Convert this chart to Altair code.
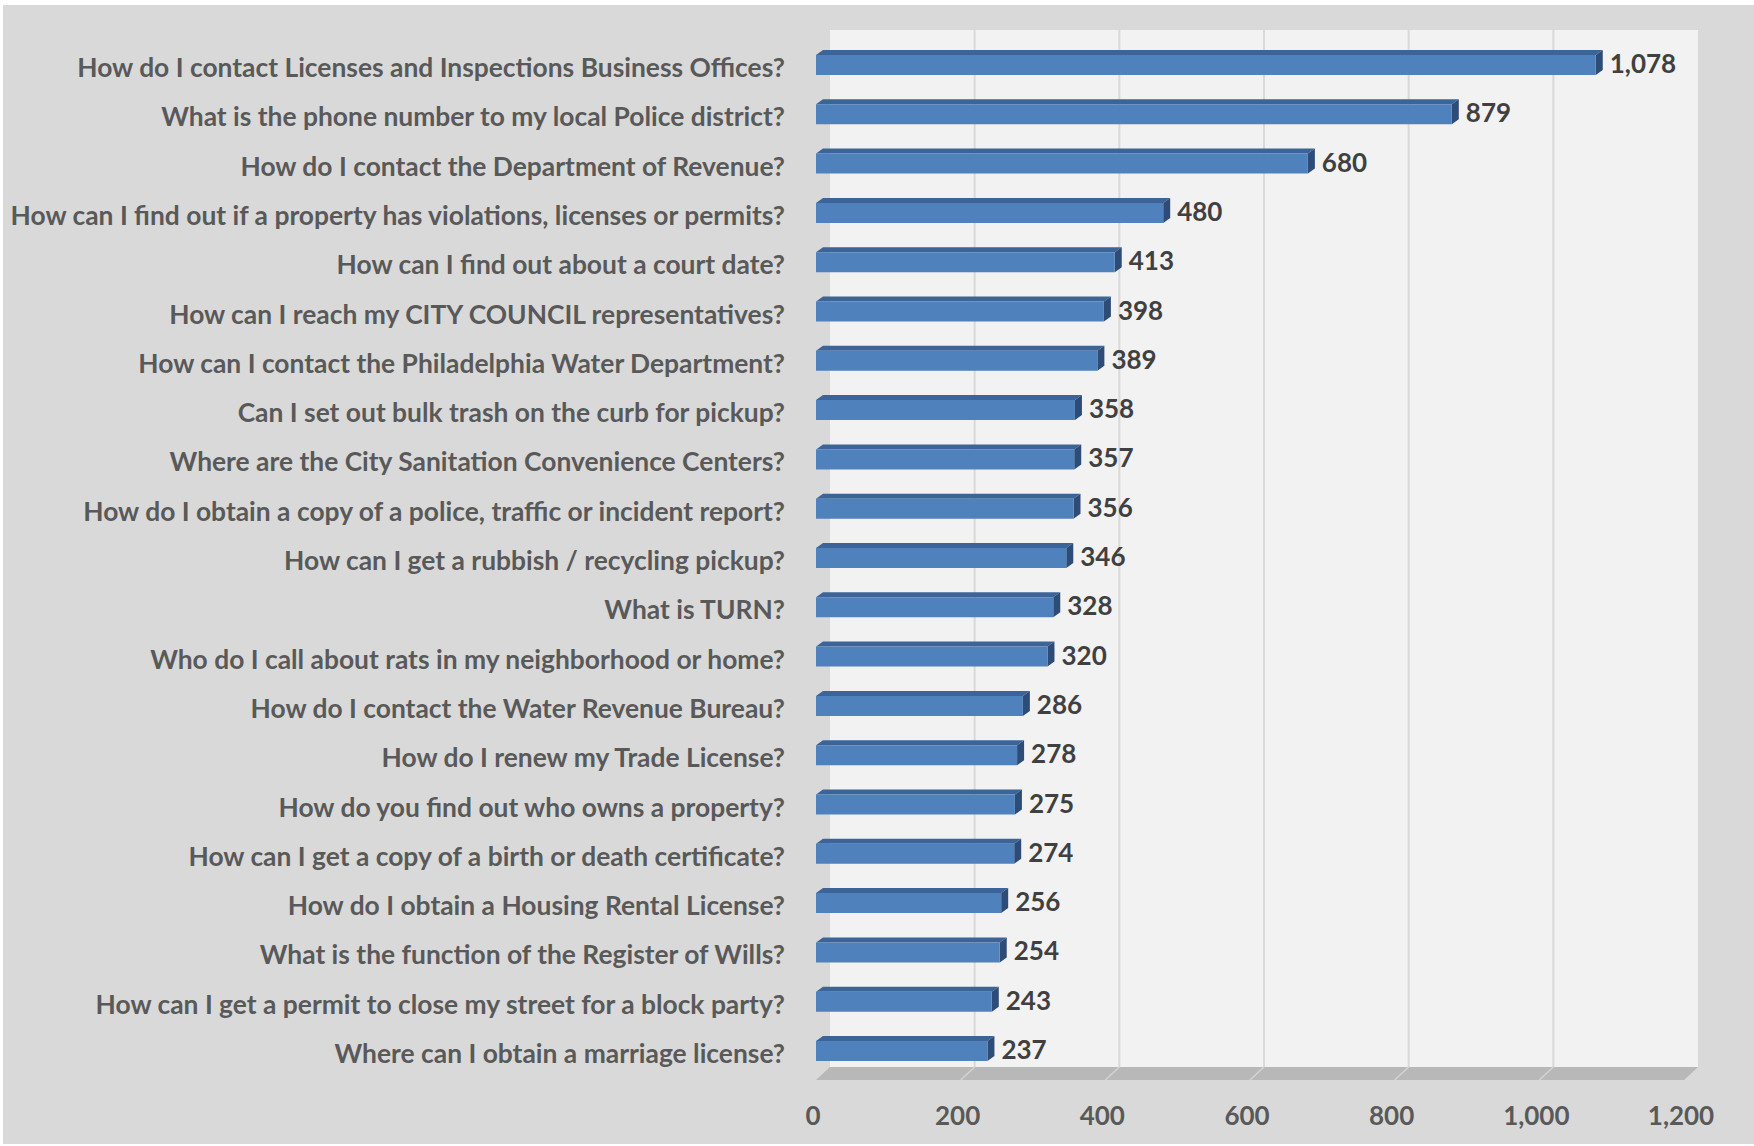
import altair as alt
import pandas as pd

questions = [
    "How do I contact Licenses and Inspections Business Offices?",
    "What is the phone number to my local Police district?",
    "How do I contact the Department of Revenue?",
    "How can I find out if a property has violations, licenses or permits?",
    "How can I find out about a court date?",
    "How can I reach my CITY COUNCIL representatives?",
    "How can I contact the Philadelphia Water Department?",
    "Can I set out bulk trash on the curb for pickup?",
    "Where are the City Sanitation Convenience Centers?",
    "How do I obtain a copy of a police, traffic or incident report?",
    "How can I get a rubbish / recycling pickup?",
    "What is TURN?",
    "Who do I call about rats in my neighborhood or home?",
    "How do I contact the Water Revenue Bureau?",
    "How do I renew my Trade License?",
    "How do you find out who owns a property?",
    "How can I get a copy of a birth or death certificate?",
    "How do I obtain a Housing Rental License?",
    "What is the function of the Register of Wills?",
    "How can I get a permit to close my street for a block party?",
    "Where can I obtain a marriage license?",
]
counts = [1078, 879, 680, 480, 413, 398, 389, 358, 357, 356, 346,
          328, 320, 286, 278, 275, 274, 256, 254, 243, 237]
x_ticks = [0, 200, 400, 600, 800, 1000, 1200]

# ---- layout (pixels) ----
LEFT, TOP = 816, 30
W, H = 868, 1050
PX = W / 1200.0           # pixels per unit
STEP = 49.3               # pixels per category
D0 = -35.0 / STEP
D1 = D0 + H / STEP
WALL_BOTTOM = D0 + 1037.0 / STEP
DEPTH_X = 14.0 / PX
BAR_HALF = 10.0 / STEP
BAR_DX = 7.0 / PX
BAR_DY = 5.0 / STEP

FONT = "Lato"
FS = 26
xscale = alt.Scale(domain=[0, 1200], nice=False, zero=False)
yscale = alt.Scale(domain=[D0, D1], reverse=True, nice=False, zero=False)

bars = pd.DataFrame({"q": questions, "v": counts, "i": list(range(len(questions)))})
bars["zero"] = 0
bars["y_top"] = bars["i"] - BAR_HALF
bars["y_bot"] = bars["i"] + BAR_HALF

top_rows, side_rows = [], []
for q, v, i in zip(questions, counts, range(len(questions))):
    yt, yb = i - BAR_HALF, i + BAR_HALF
    top_rows.append({"q": q, "y": yt, "x": 0, "x2": v})
    top_rows.append({"q": q, "y": yt - BAR_DY, "x": BAR_DX, "x2": v + BAR_DX})
    side_rows.append({"q": q, "x": v, "y": yt, "y2": yb})
    side_rows.append({"q": q, "x": v + BAR_DX, "y": yt - BAR_DY, "y2": yb - BAR_DY})
top_df = pd.DataFrame(top_rows)
side_df = pd.DataFrame(side_rows)

wall_df = pd.DataFrame({"x": [DEPTH_X], "x2": [1200 + DEPTH_X], "y": [D0], "y2": [WALL_BOTTOM]})
grid_df = pd.DataFrame({"x": [t + DEPTH_X for t in x_ticks[1:-1]]})
grid_df["y"] = D0
grid_df["y2"] = WALL_BOTTOM
floor_df = pd.DataFrame({"y": [WALL_BOTTOM, D1], "x": [DEPTH_X, 0], "x2": [1200 + DEPTH_X, 1200]})
fl_rows = []
for t in x_ticks[1:-1]:
    fl_rows.append({"t": t, "x": t + DEPTH_X, "y": WALL_BOTTOM, "o": 0})
    fl_rows.append({"t": t, "x": t, "y": D1, "o": 1})
floor_lines_df = pd.DataFrame(fl_rows)
axis_df = pd.DataFrame({"x": x_ticks})

bg = alt.Chart(pd.DataFrame({"a": [0]})).mark_rect(color="#d9d9d9").encode(
    x=alt.value(3 - LEFT), x2=alt.value(1754 - LEFT),
    y=alt.value(5 - TOP), y2=alt.value(1144 - TOP))

wall = alt.Chart(wall_df).mark_rect(color="#f2f2f2").encode(
    x=alt.X("x:Q", scale=xscale, axis=None), x2="x2:Q",
    y=alt.Y("y:Q", scale=yscale, axis=None), y2="y2:Q")

grid = alt.Chart(grid_df).mark_rule(color="#d9d9d9", strokeWidth=2).encode(
    x=alt.X("x:Q", scale=xscale, axis=None),
    y=alt.Y("y:Q", scale=yscale, axis=None), y2="y2:Q")

floor = alt.Chart(floor_df).mark_area(orient="horizontal", color="#b8b8b8").encode(
    y=alt.Y("y:Q", scale=yscale, axis=None),
    x=alt.X("x:Q", scale=xscale, axis=None), x2="x2:Q")

floor_lines = alt.Chart(floor_lines_df).mark_line(color="#d4d4d4", strokeWidth=1.5).encode(
    x=alt.X("x:Q", scale=xscale, axis=None),
    y=alt.Y("y:Q", scale=yscale, axis=None),
    detail="t:N", order="o:Q")

axis_labels = alt.Chart(axis_df).mark_text(baseline="middle", align="center", dx=-3, font=FONT,
                                           fontSize=FS, fontWeight="bold", color="#595959").encode(
    x=alt.X("x:Q", scale=xscale, axis=None),
    y=alt.value(H + 37),
    text=alt.Text("x:Q", format=","))

top_face = alt.Chart(top_df).mark_area(orient="horizontal", color="#3d6498").encode(
    y=alt.Y("y:Q", scale=yscale, axis=None),
    x=alt.X("x:Q", scale=xscale, axis=None), x2="x2:Q", detail="q:N")

side_face = alt.Chart(side_df).mark_area(orient="vertical", color="#2d4c78").encode(
    x=alt.X("x:Q", scale=xscale, axis=None),
    y=alt.Y("y:Q", scale=yscale, axis=None), y2="y2:Q", detail="q:N")

front = alt.Chart(bars).mark_rect(color="#4f81bd").encode(
    x=alt.X("zero:Q", scale=xscale, axis=None), x2="v:Q",
    y=alt.Y("y_top:Q", scale=yscale, axis=None), y2="y_bot:Q")

values = alt.Chart(bars).mark_text(align="left", baseline="middle", dx=14, font=FONT,
                                   fontSize=FS, fontWeight="bold", color="#404040").encode(
    x=alt.X("v:Q", scale=xscale, axis=None),
    y=alt.Y("i:Q", scale=yscale, axis=None),
    text=alt.Text("v:Q", format=","))

labels = alt.Chart(bars).mark_text(align="right", baseline="middle", dy=4, font=FONT,
                                   fontSize=26.4, fontWeight="bold", color="#595959").encode(
    x=alt.value(-31),
    y=alt.Y("i:Q", scale=yscale, axis=None),
    text="q:N")

chart = alt.layer(bg, wall, grid, floor, floor_lines, axis_labels, top_face, side_face,
                  front, values, labels).properties(
    width=W, height=H,
    autosize=alt.AutoSizeParams(type="none"),
    padding={"left": LEFT, "top": TOP, "right": 1754 - LEFT - W, "bottom": 1146 - TOP - H},
    background="white",
).configure_view(stroke=None)

chart.save("out.html", embed_options={"renderer": "svg", "actions": False})
